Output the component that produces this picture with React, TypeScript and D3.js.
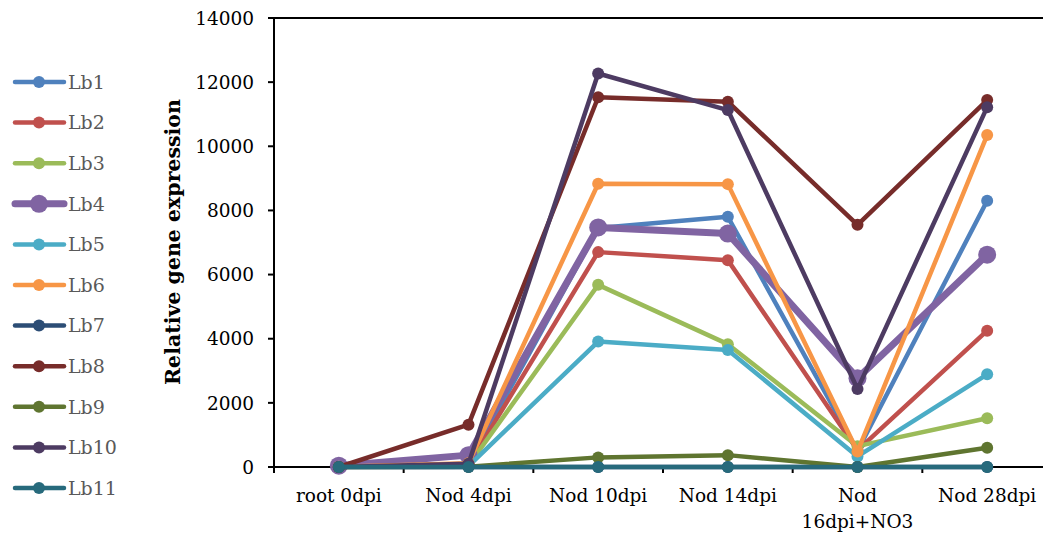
import React from "react";
import * as d3 from "d3";

const categories = ["root 0dpi", "Nod 4dpi", "Nod 10dpi", "Nod 14dpi", "Nod\n16dpi+NO3", "Nod 28dpi"];
const seriesNames = ["Lb1", "Lb2", "Lb3", "Lb4", "Lb5", "Lb6", "Lb7", "Lb8", "Lb9", "Lb10", "Lb11"];
const lb1 = [10, 80, 7450, 7800, 500, 8300];
const lb2 = [10, 60, 6700, 6450, 520, 4250];
const lb3 = [10, 50, 5680, 3830, 650, 1520];
const lb4 = [40, 370, 7470, 7280, 2770, 6620];
const lb5 = [5, 30, 3910, 3650, 330, 2890];
const lb6 = [10, 120, 8830, 8820, 480, 10350];
const lb7 = [0, 0, 0, 0, 0, 0];
const lb8 = [0, 1320, 11530, 11390, 7550, 11440];
const lb9 = [0, 10, 300, 370, 0, 600];
const lb10 = [0, 100, 12270, 11130, 2430, 11220];
const lb11 = [0, 0, 0, 0, 0, 0];
const seriesValues = [lb1, lb2, lb3, lb4, lb5, lb6, lb7, lb8, lb9, lb10, lb11];
const colors = ["#4F81BD", "#C0504D", "#9BBB59", "#8064A2", "#4BACC6", "#F79646", "#2C4D75", "#772C2A", "#5F7530", "#4D3B62", "#276A7C"];
const yTicks = [0, 2000, 4000, 6000, 8000, 10000, 12000, 14000];

const W = 1043, H = 536;
const left = 274, right = 1052, top = 18, bottom = 467;

export default function App() {
  const x = d3.scaleBand().domain(categories).range([left, right]);
  const y = d3.scaleLinear().domain([0, 14000]).range([bottom, top]);
  const line = d3.line<number>().x((_, i) => (x(categories[i]) as number) + x.bandwidth() / 2).y((d) => y(d));
  const font = "'DejaVu Serif', serif";
  const boundaries = categories.map((c) => x(c) as number).concat([right]);
  return (
    <svg width={W} height={H} style={{ position: "absolute", left: 0, top: 0, background: "#fff" }}>
      {/* axes */}
      <line x1={left} x2={right} y1={top} y2={top} stroke="#000" strokeWidth={2} />
      <line x1={left} x2={left} y1={top} y2={bottom} stroke="#000" strokeWidth={2} />
      <line x1={left} x2={right} y1={bottom} y2={bottom} stroke="#000" strokeWidth={2} />
      {yTicks.map((t) => (
        <g key={t}>
          <line x1={left - 6} x2={left} y1={y(t)} y2={y(t)} stroke="#000" strokeWidth={2} />
          <text x={254} y={y(t)} dy="0.36em" textAnchor="end" fontFamily={font} fontSize={18.5} fill="#000">{t}</text>
        </g>
      ))}
      {boundaries.map((b, i) => (
        <line key={i} x1={b} x2={b} y1={bottom} y2={bottom + 6} stroke="#000" strokeWidth={2} />
      ))}
      {categories.map((c) => {
        const cx = (x(c) as number) + x.bandwidth() / 2;
        const parts = c.split("\n");
        return (
          <text key={c} x={cx} y={502} textAnchor="middle" fontFamily={font} fontSize={18.5} fill="#000">
            {parts.map((p, i) => (
              <tspan key={i} x={cx} dy={i === 0 ? 0 : 26}>{p}</tspan>
            ))}
          </text>
        );
      })}
      <text transform={`translate(180,242) rotate(-90)`} textAnchor="middle" fontFamily={font} fontWeight="bold" fontSize={20.5} fill="#000">Relative gene expression</text>
      {/* series */}
      {seriesValues.map((vals, si) => {
        const thick = si === 3;
        return (
          <g key={seriesNames[si]}>
            <path d={line(vals) as string} fill="none" stroke={colors[si]} strokeWidth={thick ? 7 : 4.5} strokeLinejoin="round" />
            {vals.map((v, i) => (
              <circle key={i} cx={(x(categories[i]) as number) + x.bandwidth() / 2} cy={y(v)} r={thick ? 9 : 6} fill={colors[si]} />
            ))}
          </g>
        );
      })}
      {/* legend */}
      {seriesNames.map((n, i) => {
        const ly = 82 + i * 40.6;
        const thick = i === 3;
        return (
          <g key={n}>
            <line x1={15} x2={64} y1={ly} y2={ly} stroke={colors[i]} strokeWidth={thick ? 7 : 4.5} strokeLinecap="round" />
            <circle cx={39} cy={ly} r={thick ? 9 : 6} fill={colors[i]} />
            <text x={68} y={ly} dy="0.36em" fontFamily={font} fontSize={19} fill="#595959">{n}</text>
          </g>
        );
      })}
    </svg>
  );
}
